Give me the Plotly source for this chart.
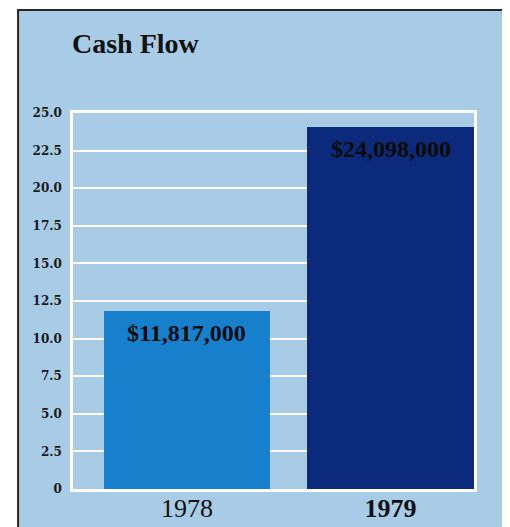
import plotly.graph_objects as go

years = ["1978", "1979"]
year_labels = ["1978", "<b>1979</b>"]
cash_flow_millions = [11.817, 24.098]
value_labels = ["$11,817,000", "$24,098,000"]
bar_colors = ["#1680cc", "#0b2a7c"]
y_tickvals = [0, 2.5, 5, 7.5, 10, 12.5, 15, 17.5, 20, 22.5, 25]
y_ticktext = ["0", "2.5", "5.0", "7.5", "10.0", "12.5", "15.0", "17.5", "20.0", "22.5", "25.0"]

BG = "#a8cce6"
xpos = list(range(len(years)))

fig = go.Figure()
fig.add_trace(go.Bar(
    x=xpos, y=cash_flow_millions, width=0.82,
    marker=dict(color=bar_colors, line=dict(width=0)),
    hoverinfo="skip", showlegend=False,
))

for xi, v, lab in zip(xpos, cash_flow_millions, value_labels):
    fig.add_annotation(
        x=xi, y=v, xref="x", yref="y", text="<b>" + lab + "</b>",
        showarrow=False, yanchor="middle", yshift=-22,
        font=dict(family="Liberation Serif", size=24, color="#0a0a0a"),
    )

fig.add_annotation(
    x=-0.0075, y=1.186, xref="paper", yref="paper", text="<b>Cash Flow</b>",
    showarrow=False, xanchor="left", yanchor="middle",
    font=dict(family="Liberation Serif", size=28, color="#111111"),
)

# panel background with dark border
fig.add_shape(
    type="rect", xref="paper", yref="paper",
    x0=-0.137, x1=1.0723, y0=-0.2, y1=1.274,
    fillcolor=BG, line=dict(color="#262626", width=2), layer="below",
)

fig.update_layout(
    width=502, height=519,
    margin=dict(l=65, r=36, t=105, b=38, autoexpand=False),
    paper_bgcolor="#ffffff",
    plot_bgcolor="rgba(0,0,0,0)",
    bargap=0,
    xaxis=dict(
        range=[-0.56, 1.41], tickvals=xpos, ticktext=year_labels,
        showgrid=False, zeroline=False, automargin=False,
        showline=True, linecolor="white", linewidth=2.5, mirror=True,
        ticks="", ticklabelstandoff=-6,
        tickfont=dict(family="Liberation Serif", size=26, color="#111111"),
        fixedrange=True,
    ),
    yaxis=dict(
        range=[0, 25], tickvals=y_tickvals,
        ticktext=["<b>" + t + "</b>" for t in y_ticktext],
        showgrid=True, gridcolor="white", gridwidth=2,
        zeroline=False, automargin=False,
        showline=True, linecolor="white", linewidth=2.5, mirror=True,
        ticks="", ticklabelstandoff=6,
        tickfont=dict(family="DejaVu Serif", size=12, color="#1a1a1a"),
        fixedrange=True,
    ),
)

fig.write_html("out.html")
